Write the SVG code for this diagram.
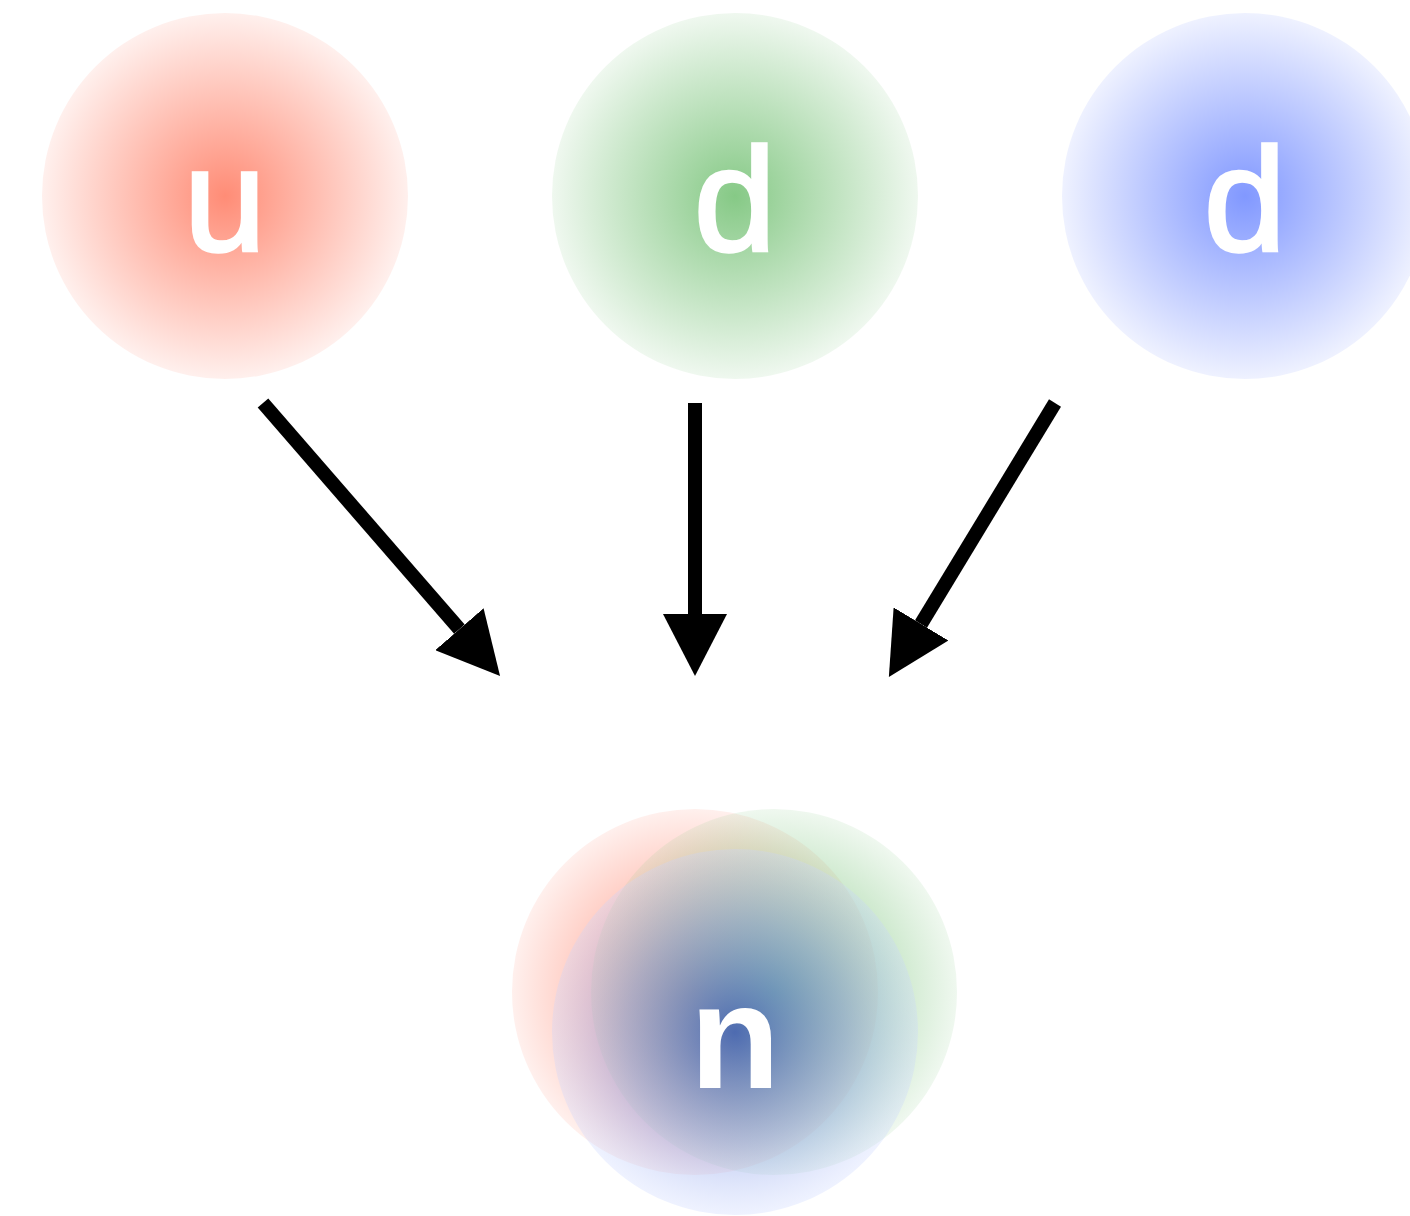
<svg xmlns="http://www.w3.org/2000/svg" width="1410" height="1216" viewBox="0 0 1410 1216">
<style>
.lbl{font-family:"Liberation Sans",Arial,sans-serif;font-weight:normal;font-size:147px;fill:#ffffff;stroke:#ffffff;stroke-width:3.5;text-anchor:middle}
.lbln{font-family:"Liberation Sans",Arial,sans-serif;font-weight:bold;font-size:148px;fill:#ffffff;text-anchor:middle}
.arr{stroke:#000;stroke-width:14;fill:none;marker-end:url(#ah)}
</style>
<defs>
<radialGradient id="gr"><stop offset="0" stop-color="#ff8c76" stop-opacity="1"/><stop offset="1" stop-color="#ff8c76" stop-opacity="0.13"/></radialGradient>
<radialGradient id="gg"><stop offset="0" stop-color="#86c986" stop-opacity="1"/><stop offset="1" stop-color="#86c986" stop-opacity="0.13"/></radialGradient>
<radialGradient id="gb"><stop offset="0" stop-color="#8198ff" stop-opacity="1"/><stop offset="1" stop-color="#8198ff" stop-opacity="0.13"/></radialGradient>
<radialGradient id="gbd"><stop offset="0" stop-color="#3a58b8" stop-opacity="0.82"/><stop offset="0.6" stop-color="#8ea2e6" stop-opacity="0.55"/><stop offset="1" stop-color="#c8d4ff" stop-opacity="0.3"/></radialGradient>
<marker id="ah" markerUnits="userSpaceOnUse" viewBox="0 0 62 64" markerWidth="62" markerHeight="64" refX="0" refY="32" orient="auto"><path d="M0,0 L62,32 L0,64 Z" fill="#000"/></marker>
</defs>
<g id="node-u"><circle cx="225" cy="196" r="183" fill="url(#gr)"/><text class="lbl" x="225" y="251">u</text></g>
<g id="node-d1"><circle cx="735" cy="196" r="183" fill="url(#gg)"/><text class="lbl" x="735" y="250">d</text></g>
<g id="node-d2"><circle cx="1245" cy="196" r="183" fill="url(#gb)"/><text class="lbl" x="1245" y="250">d</text></g>
<g id="connectors">
<line class="arr" x1="263" y1="403" x2="459.4" y2="629.2"/>
<line class="arr" x1="695" y1="403" x2="695" y2="614"/>
<line class="arr" x1="1055" y1="403" x2="921" y2="624"/>
</g>
<g id="node-n">
<circle cx="695" cy="992" r="183" fill="url(#gr)"/>
<circle cx="774" cy="992" r="183" fill="url(#gg)"/>
<circle cx="735" cy="1032" r="183" fill="url(#gbd)"/>
<text class="lbln" x="735" y="1088">n</text>
</g>
</svg>
